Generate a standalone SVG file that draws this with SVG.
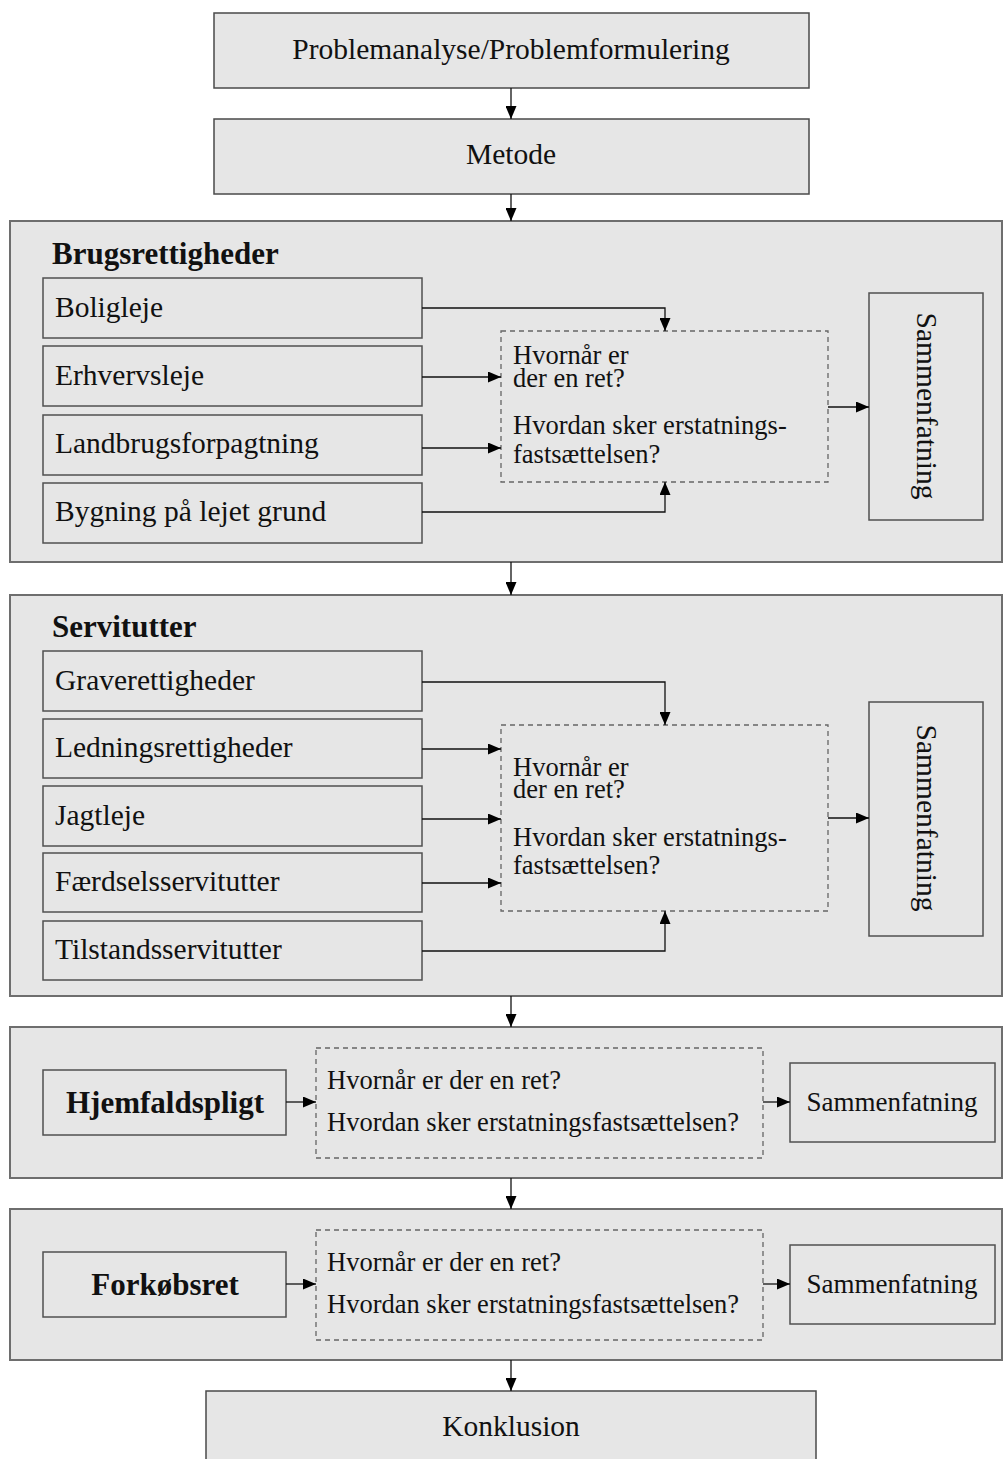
<svg xmlns="http://www.w3.org/2000/svg" width="1003" height="1459" viewBox="0 0 1003 1459">
<style>
  .bg{fill:#ffffff}
  .box{fill:#e6e6e6;stroke:#4a4a4a;stroke-width:1.5}
  .sec{fill:#e6e6e6;stroke:#6e6e6e;stroke-width:2}
  .item{fill:#e6e6e6;stroke:#505050;stroke-width:1.5}
  .dash{fill:none;stroke:#666666;stroke-width:1.3;stroke-dasharray:5,4}
  .t{font-family:"Liberation Serif","Times New Roman",serif;font-size:29.5px;fill:#111}
  .tc{text-anchor:middle}
  .b{font-weight:bold;font-size:31px}
  .q{font-size:26.5px}
  .s{font-size:27px}
  .c{fill:none;stroke:#111;stroke-width:1.3}
</style>
<defs>
  <marker id="ah" markerUnits="userSpaceOnUse" markerWidth="13" markerHeight="11" refX="13" refY="5.5" orient="auto">
    <path d="M0,0 L13,5.5 L0,11 z" fill="#000"/>
  </marker>
</defs>
<rect class="bg" x="0" y="0" width="1003" height="1459"/>

<g id="problemanalyse">
  <rect class="box" x="214" y="13" width="595" height="75"/>
  <text class="t tc" x="511" y="59">Problemanalyse/Problemformulering</text>
</g>
<g id="metode">
  <rect class="box" x="214" y="119" width="595" height="75"/>
  <text class="t tc" x="511" y="164">Metode</text>
</g>

<g id="sec-brugsrettigheder">
  <rect class="sec" x="10" y="221" width="992" height="341"/>
  <text class="t b" x="52" y="264">Brugsrettigheder</text>
</g>
<g id="boligleje"><rect class="item" x="43" y="278" width="379" height="60"/><text class="t" x="55" y="317">Boligleje</text></g>
<g id="erhvervsleje"><rect class="item" x="43" y="346" width="379" height="60"/><text class="t" x="55" y="385">Erhvervsleje</text></g>
<g id="landbrugsforpagtning"><rect class="item" x="43" y="415" width="379" height="60"/><text class="t" x="55" y="453">Landbrugsforpagtning</text></g>
<g id="bygning"><rect class="item" x="43" y="483" width="379" height="60"/><text class="t" x="55" y="521">Bygning på lejet grund</text></g>
<g id="q1">
  <rect class="dash" x="501" y="331" width="327" height="151"/>
  <text class="t q" x="513" y="364">Hvornår er</text>
  <text class="t q" x="513" y="387">der en ret?</text>
  <text class="t q" x="513" y="434">Hvordan sker erstatnings-</text>
  <text class="t q" x="513" y="463">fastsættelsen?</text>
</g>
<g id="sam1">
  <rect class="item" x="869" y="293" width="114" height="227"/>
  <text class="t tc" transform="translate(926,406) rotate(90)" y="9">Sammenfatning</text>
</g>

<g id="sec-servitutter">
  <rect class="sec" x="10" y="595" width="992" height="401"/>
  <text class="t b" x="52" y="637">Servitutter</text>
</g>
<g id="graverettigheder"><rect class="item" x="43" y="651" width="379" height="60"/><text class="t" x="55" y="690">Graverettigheder</text></g>
<g id="ledningsrettigheder"><rect class="item" x="43" y="719" width="379" height="59"/><text class="t" x="55" y="757">Ledningsrettigheder</text></g>
<g id="jagtleje"><rect class="item" x="43" y="786" width="379" height="60"/><text class="t" x="55" y="825">Jagtleje</text></g>
<g id="faerdsel"><rect class="item" x="43" y="853" width="379" height="59"/><text class="t" x="55" y="891">Færdselsservitutter</text></g>
<g id="tilstand"><rect class="item" x="43" y="921" width="379" height="59"/><text class="t" x="55" y="959">Tilstandsservitutter</text></g>
<g id="q2">
  <rect class="dash" x="501" y="725" width="327" height="186"/>
  <text class="t q" x="513" y="776">Hvornår er</text>
  <text class="t q" x="513" y="798">der en ret?</text>
  <text class="t q" x="513" y="846">Hvordan sker erstatnings-</text>
  <text class="t q" x="513" y="874">fastsættelsen?</text>
</g>
<g id="sam2">
  <rect class="item" x="869" y="702" width="114" height="234"/>
  <text class="t tc" transform="translate(926,818) rotate(90)" y="9">Sammenfatning</text>
</g>

<g id="sec-hjemfald">
  <rect class="sec" x="10" y="1027" width="992" height="151"/>
</g>
<g id="hjemfaldspligt"><rect class="item" x="43" y="1070" width="243" height="65"/><text class="t b tc" x="165" y="1113">Hjemfaldspligt</text></g>
<g id="q3">
  <rect class="dash" x="316" y="1048" width="447" height="110"/>
  <text class="t q" x="327" y="1089">Hvornår er der en ret?</text>
  <text class="t q" x="327" y="1131">Hvordan sker erstatningsfastsættelsen?</text>
</g>
<g id="sam3"><rect class="item" x="790" y="1063" width="205" height="79"/><text class="t s tc" x="892" y="1111">Sammenfatning</text></g>

<g id="sec-forkob">
  <rect class="sec" x="10" y="1209" width="992" height="151"/>
</g>
<g id="forkobsret"><rect class="item" x="43" y="1252" width="243" height="65"/><text class="t b tc" x="165" y="1295">Forkøbsret</text></g>
<g id="q4">
  <rect class="dash" x="316" y="1230" width="447" height="110"/>
  <text class="t q" x="327" y="1271">Hvornår er der en ret?</text>
  <text class="t q" x="327" y="1313">Hvordan sker erstatningsfastsættelsen?</text>
</g>
<g id="sam4"><rect class="item" x="790" y="1245" width="205" height="79"/><text class="t s tc" x="892" y="1293">Sammenfatning</text></g>

<g id="konklusion">
  <rect class="box" x="206" y="1391" width="610" height="80"/>
  <text class="t tc" x="511" y="1436">Konklusion</text>
</g>

<g id="connectors">
  <line class="c" x1="511" y1="88" x2="511" y2="119" marker-end="url(#ah)"/>
  <line class="c" x1="511" y1="194" x2="511" y2="221" marker-end="url(#ah)"/>
  <polyline class="c" points="422,308 665,308 665,331" marker-end="url(#ah)"/>
  <line class="c" x1="422" y1="377" x2="501" y2="377" marker-end="url(#ah)"/>
  <line class="c" x1="422" y1="448" x2="501" y2="448" marker-end="url(#ah)"/>
  <polyline class="c" points="422,512 665,512 665,482" marker-end="url(#ah)"/>
  <line class="c" x1="828" y1="407" x2="869" y2="407" marker-end="url(#ah)"/>
  <line class="c" x1="511" y1="562" x2="511" y2="595" marker-end="url(#ah)"/>
  <polyline class="c" points="422,682 665,682 665,725" marker-end="url(#ah)"/>
  <line class="c" x1="422" y1="749" x2="501" y2="749" marker-end="url(#ah)"/>
  <line class="c" x1="422" y1="819" x2="501" y2="819" marker-end="url(#ah)"/>
  <line class="c" x1="422" y1="883" x2="501" y2="883" marker-end="url(#ah)"/>
  <polyline class="c" points="422,951 665,951 665,911" marker-end="url(#ah)"/>
  <line class="c" x1="828" y1="818" x2="869" y2="818" marker-end="url(#ah)"/>
  <line class="c" x1="511" y1="996" x2="511" y2="1027" marker-end="url(#ah)"/>
  <line class="c" x1="286" y1="1102" x2="316" y2="1102" marker-end="url(#ah)"/>
  <line class="c" x1="763" y1="1102" x2="790" y2="1102" marker-end="url(#ah)"/>
  <line class="c" x1="511" y1="1178" x2="511" y2="1209" marker-end="url(#ah)"/>
  <line class="c" x1="286" y1="1284" x2="316" y2="1284" marker-end="url(#ah)"/>
  <line class="c" x1="763" y1="1284" x2="790" y2="1284" marker-end="url(#ah)"/>
  <line class="c" x1="511" y1="1360" x2="511" y2="1391" marker-end="url(#ah)"/>
</g>
</svg>
